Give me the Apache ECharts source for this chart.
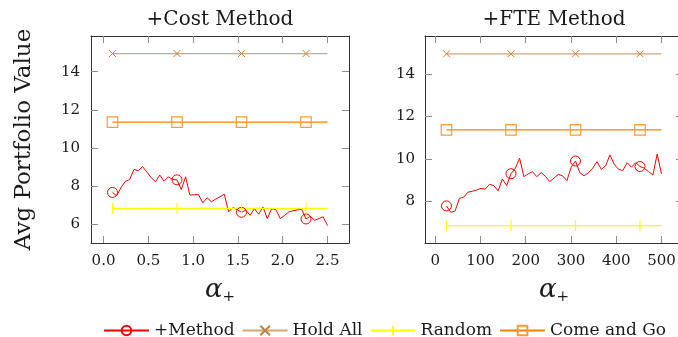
<!DOCTYPE html>
<html>
<head>
<meta charset="utf-8">
<script src="https://cdn.jsdelivr.net/npm/echarts@6/dist/echarts.min.js"></script>
<style>
  html, body { margin: 0; padding: 0; background: #fff; }
  #chart { width: 678px; height: 337px; }
</style>
</head>
<body>
<div id="chart"></div>
<script>
// ---- data ----
const panelTitles = ['+Cost Method', '+FTE Method'];
const seriesNames = ['+Method', 'Hold All', 'Random', 'Come and Go'];

// alpha+ sample positions, Cost panel
const alphaCost = [0.100, 0.148, 0.196, 0.244, 0.292, 0.340, 0.388, 0.436, 0.484, 0.532,
  0.580, 0.628, 0.676, 0.724, 0.772, 0.820, 0.868, 0.916, 0.964, 1.012,
  1.060, 1.108, 1.156, 1.204, 1.252, 1.300, 1.348, 1.396, 1.444, 1.492,
  1.540, 1.588, 1.636, 1.684, 1.732, 1.780, 1.828, 1.876, 1.924, 1.972,
  2.020, 2.068, 2.116, 2.164, 2.212, 2.260, 2.308, 2.356, 2.404, 2.452, 2.500];
const methodCost = [7.67, 7.50, 7.94, 8.25, 8.35, 8.88, 8.81, 9.02, 8.74, 8.44,
  8.23, 8.58, 8.26, 8.49, 8.35, 8.33, 7.82, 8.49, 7.53, 7.55,
  7.56, 7.12, 7.39, 7.18, 7.32, 7.44, 7.58, 6.65, 6.88, 6.77,
  6.63, 6.74, 6.47, 6.82, 6.53, 6.91, 6.30, 6.82, 6.77, 6.30,
  6.46, 6.65, 6.71, 6.75, 6.79, 6.28, 6.42, 6.21, 6.30, 6.39, 5.93];

// alpha+ sample positions, FTE panel
const alphaFte = [25, 34.5, 44, 53.5, 63, 72.5, 82, 91.5, 101, 110.5,
  120, 129.5, 139, 148.5, 158, 167.5, 177, 186.5, 196, 205.5,
  215, 224.5, 234, 243.5, 253, 262.5, 272, 281.5, 291, 300.5,
  310, 319.5, 329, 338.5, 348, 357.5, 367, 376.5, 386, 395.5,
  405, 414.5, 424, 433.5, 443, 452.5, 462, 471.5, 481, 490.5, 500];
const methodFte = [7.78, 7.48, 7.54, 8.14, 8.19, 8.43, 8.47, 8.53, 8.61, 8.57,
  8.80, 8.74, 8.49, 9.05, 8.74, 9.30, 9.56, 10.03, 9.16, 9.29,
  9.40, 9.16, 9.35, 9.18, 8.93, 9.09, 9.27, 9.20, 8.97, 9.61,
  9.90, 9.35, 9.20, 9.35, 9.56, 9.87, 9.51, 9.67, 10.19, 9.75,
  9.51, 9.45, 9.82, 9.61, 9.82, 9.64, 9.56, 9.40, 9.24, 10.23, 9.29];

// flat baselines: points at the marked positions plus the right end
const baseAlphaCost = [0.1, 0.82, 1.54, 2.26, 2.5];
const holdAllCost = [14.95, 14.95, 14.95, 14.95, 14.95];
const randomCost  = [6.83, 6.83, 6.83, 6.83, 6.83];
const comeGoCost  = [11.36, 11.36, 11.36, 11.36, 11.36];

const baseAlphaFte = [25, 167.5, 310, 452.5, 500];
const holdAllFte = [14.96, 14.96, 14.96, 14.96, 14.96];
const randomFte  = [6.85, 6.85, 6.85, 6.85, 6.85];
const comeGoFte  = [11.37, 11.37, 11.37, 11.37, 11.37];

// tick labels
const xTicksCost = [0, 0.5, 1, 1.5, 2, 2.5];
const xTicksFte = [0, 100, 200, 300, 400, 500];
const yTicksCost = [6, 8, 10, 12, 14];
const yTicksFte = [8, 10, 12, 14];

// ---- styling ----
const FONT = 'DejaVu Serif';
const INK = '#1a1a1a';
const BORDER = '#333333';
const TICK = '#8c8c8c';
const RED = '#ff0000';
const BROWN_LINE = '#d4a678';
const BROWN_MARK = '#bf8040';
const YELLOW = '#ffff00';
const ORANGE_LINE = '#ff8000';
const ORANGE_MARK = '#ff9a3a';

const pairs = (xs, ys) => xs.map((x, i) => [x, ys[i]]);

const panels = [
  { left: 91, xMin: -0.14, xMax: 2.74, yMin: 5.02, yMax: 15.87,
    xTicks: xTicksCost, yTicks: yTicksCost, xFmt: v => v.toFixed(1), yName: 'Avg Portfolio Value',
    alpha: alphaCost, method: methodCost, base: baseAlphaCost,
    hold: holdAllCost, rand: randomCost, come: comeGoCost, labelMargin: 11 },
  { left: 425, xMin: -22.5, xMax: 547.5, yMin: 6.03, yMax: 15.8,
    xTicks: xTicksFte, yTicks: yTicksFte, xFmt: v => String(v), yName: '',
    alpha: alphaFte, method: methodFte, base: baseAlphaFte,
    hold: holdAllFte, rand: randomFte, come: comeGoFte, labelMargin: 10 }
];

const grid = [], xAxis = [], yAxis = [], series = [], title = [];

panels.forEach((p, gi) => {
  grid.push({ left: p.left, top: 36, width: 258, height: 207, outerBoundsMode: 'none', containLabel: false });
  title.push({
    text: panelTitles[gi], left: p.left + 129, top: 10, textAlign: 'center', padding: 0,
    textStyle: { fontFamily: FONT, fontSize: 20, fontWeight: 'normal', color: INK, lineHeight: 20 }
  });

  const axisLine = { onZero: false, lineStyle: { color: BORDER, width: 1 } };
  const xTick = { inside: true, length: 7, lineStyle: { color: TICK, width: 1 }, customValues: p.xTicks };
  const yTick = { inside: true, length: 7, lineStyle: { color: TICK, width: 1 }, customValues: p.yTicks };

  xAxis.push({
    type: 'value', gridIndex: gi, position: 'bottom', min: p.xMin, max: p.xMax,
    axisLine, axisTick: xTick, splitLine: { show: false },
    axisLabel: { customValues: p.xTicks, formatter: p.xFmt, margin: 11, color: INK, fontFamily: FONT, fontSize: 15 },
    name: '{a|α}{s|+}', nameLocation: 'middle', nameGap: 34,
    nameTextStyle: {
      rich: {
        a: { fontFamily: FONT, fontStyle: 'italic', fontSize: 26, lineHeight: 26, verticalAlign: 'top', color: INK },
        s: { fontFamily: FONT, fontSize: 15, lineHeight: 15, verticalAlign: 'top', padding: [13, 0, 0, 0], color: INK }
      }
    }
  });
  xAxis.push({
    type: 'value', gridIndex: gi, position: 'top', min: p.xMin, max: p.xMax,
    axisLine, axisTick: xTick, splitLine: { show: false }, axisLabel: { show: false }
  });
  yAxis.push({
    type: 'value', gridIndex: gi, position: 'left', min: p.yMin, max: p.yMax,
    axisLine, axisTick: yTick, splitLine: { show: false },
    axisLabel: { customValues: p.yTicks, margin: p.labelMargin, color: INK, fontFamily: FONT, fontSize: 15 },
    name: p.yName, nameLocation: 'middle', nameGap: 55,
    nameTextStyle: { fontFamily: FONT, fontSize: 23, lineHeight: 23, color: INK }
  });
  // right side of the frame, ticks pointing inward
  yAxis.push({
    type: 'value', gridIndex: gi, position: 'right', min: p.yMin, max: p.yMax,
    axisLine, axisTick: yTick, splitLine: { show: false }, axisLabel: { show: false }
  });

  const ax = { xAxisIndex: gi * 2, yAxisIndex: gi * 2 };
  const common = { type: 'line', showAllSymbol: true, animation: false, silent: true };
  const markFirst4 = size => (v, prm) => (prm.dataIndex < 4 ? size : 0);

  series.push({
    ...common, ...ax, name: seriesNames[0], data: pairs(p.alpha, p.method),
    symbol: 'circle', symbolSize: (v, prm) => (prm.dataIndex % 15 === 0 ? 10 : 0),
    lineStyle: { color: RED, width: 1 },
    itemStyle: { color: 'transparent', borderColor: RED, borderWidth: 1 }
  });
  series.push({
    ...common, ...ax, name: seriesNames[1], data: pairs(p.base, p.hold),
    symbol: 'path://M0,0L10,10M10,0L0,10', symbolSize: markFirst4(7),
    lineStyle: { color: BROWN_LINE, width: 1.3 },
    itemStyle: { color: 'transparent', borderColor: BROWN_MARK, borderWidth: 1 }
  });
  series.push({
    ...common, ...ax, name: seriesNames[2], data: pairs(p.base, p.rand),
    symbol: 'path://M0,0M10,10M5,0L5,10', symbolSize: markFirst4(11),
    lineStyle: { color: YELLOW, width: 1.3 },
    itemStyle: { color: 'transparent', borderColor: YELLOW, borderWidth: 1.2 }
  });
  series.push({
    ...common, ...ax, name: seriesNames[3], data: pairs(p.base, p.come),
    symbol: 'rect', symbolSize: markFirst4(10.5),
    lineStyle: { color: ORANGE_LINE, width: 1.3 },
    itemStyle: { color: 'transparent', borderColor: ORANGE_MARK, borderWidth: 1.2 }
  });
});

const chart = echarts.init(document.getElementById('chart'), null, { renderer: 'canvas' });
chart.setOption({
  backgroundColor: '#ffffff',
  animation: false,
  title, grid, xAxis, yAxis, series,
  legend: {
    data: seriesNames, left: 103, top: 322, padding: 0,
    itemWidth: 45, itemHeight: 12, itemGap: 7, selectedMode: false,
    textStyle: { fontFamily: FONT, fontSize: 17, color: INK }
  }
});
</script>
</body>
</html>
